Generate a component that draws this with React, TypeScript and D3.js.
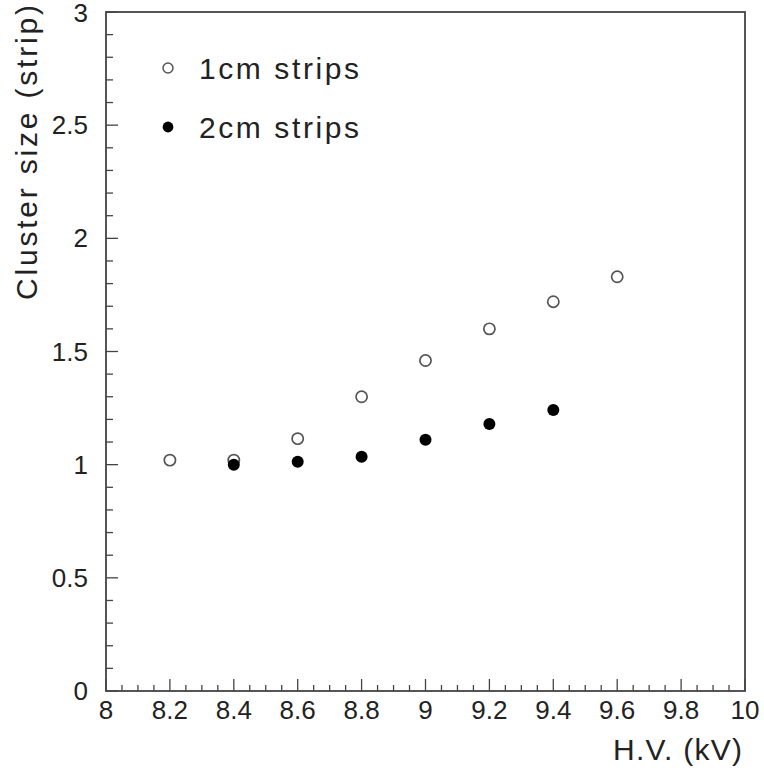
import React from "react";
import * as d3 from "d3";

const hvOpen = [8.2, 8.4, 8.6, 8.8, 9.0, 9.2, 9.4, 9.6];
const sizeOpen = [1.02, 1.02, 1.115, 1.3, 1.46, 1.6, 1.72, 1.83];
const hvFilled = [8.4, 8.6, 8.8, 9.0, 9.2, 9.4];
const sizeFilled = [1.0, 1.013, 1.035, 1.11, 1.18, 1.242];
const xTicks = [8, 8.2, 8.4, 8.6, 8.8, 9, 9.2, 9.4, 9.6, 9.8, 10];
const yTicks = [0, 0.5, 1, 1.5, 2, 2.5, 3];
const legendLabels = ["1cm strips", "2cm strips"];

const W = 764, H = 771;
const L = 106, R = 745, T = 12, B = 691;

export default function App() {
  const x = d3.scaleLinear().domain([8, 10]).range([L, R]);
  const y = d3.scaleLinear().domain([0, 3]).range([B, T]);
  const xMinor = d3.range(0, 41).map((i) => 8 + i * 0.05);
  const yMinor = d3.range(0, 31).map((i) => i * 0.1);
  const font = "'Liberation Sans', Arial, sans-serif";
  const axisColor = "#444";
  const textColor = "#222";
  return (
    <svg width={W} height={H} style={{ position: "absolute", left: 0, top: 0, background: "#fff" }}>
      <rect x={0} y={0} width={W} height={H} fill="#fff" />
      {xMinor.map((v, i) => (
        <line key={"xm" + i} x1={x(v)} x2={x(v)} y1={B} y2={B - (i % 4 === 0 ? 12 : 6)} stroke={axisColor} strokeWidth={1.3} />
      ))}
      {yMinor.map((v, i) => (
        <line key={"ym" + i} x1={L} x2={L + (i % 5 === 0 ? 12 : 7)} y1={y(v)} y2={y(v)} stroke={axisColor} strokeWidth={1.3} />
      ))}
      <rect x={L} y={T} width={R - L} height={B - T} fill="none" stroke={axisColor} strokeWidth={1.8} />
      {xTicks.map((v) => (
        <text key={"xt" + v} x={x(v)} y={719} textAnchor="middle" fontFamily={font} fontSize={26} fill={textColor}>
          {d3.format("~g")(v)}
        </text>
      ))}
      {yTicks.map((v) => (
        <text key={"yt" + v} x={88} y={v === 3 ? y(v) + 10 : y(v) + 9} textAnchor="end" fontFamily={font} fontSize={26} fill={textColor}>
          {d3.format("~g")(v)}
        </text>
      ))}
      <text x={742} y={760} textAnchor="end" fontFamily={font} fontSize={30} fill={textColor} textLength={129} lengthAdjust="spacing">
        H.V. (kV)
      </text>
      <text transform="translate(37,300) rotate(-90)" x={0} y={0} textAnchor="start" fontFamily={font} fontSize={30} fill={textColor} textLength={295} lengthAdjust="spacing">
        Cluster size (strip)
      </text>
      {hvOpen.map((v, i) => (
        <circle key={"o" + i} cx={x(v)} cy={y(sizeOpen[i])} r={5.6} fill="#fff" stroke="#555" strokeWidth={1.7} />
      ))}
      {hvFilled.map((v, i) => (
        <circle key={"f" + i} cx={x(v)} cy={y(sizeFilled[i])} r={6} fill="#000" />
      ))}
      <circle cx={168} cy={68} r={5} fill="#fff" stroke="#555" strokeWidth={1.5} />
      <circle cx={168} cy={127} r={5.4} fill="#000" />
      <text x={199} y={79} fontFamily={font} fontSize={30} fill={textColor} textLength={160} lengthAdjust="spacing">
        {legendLabels[0]}
      </text>
      <text x={199} y={138} fontFamily={font} fontSize={30} fill={textColor} textLength={160} lengthAdjust="spacing">
        {legendLabels[1]}
      </text>
    </svg>
  );
}
